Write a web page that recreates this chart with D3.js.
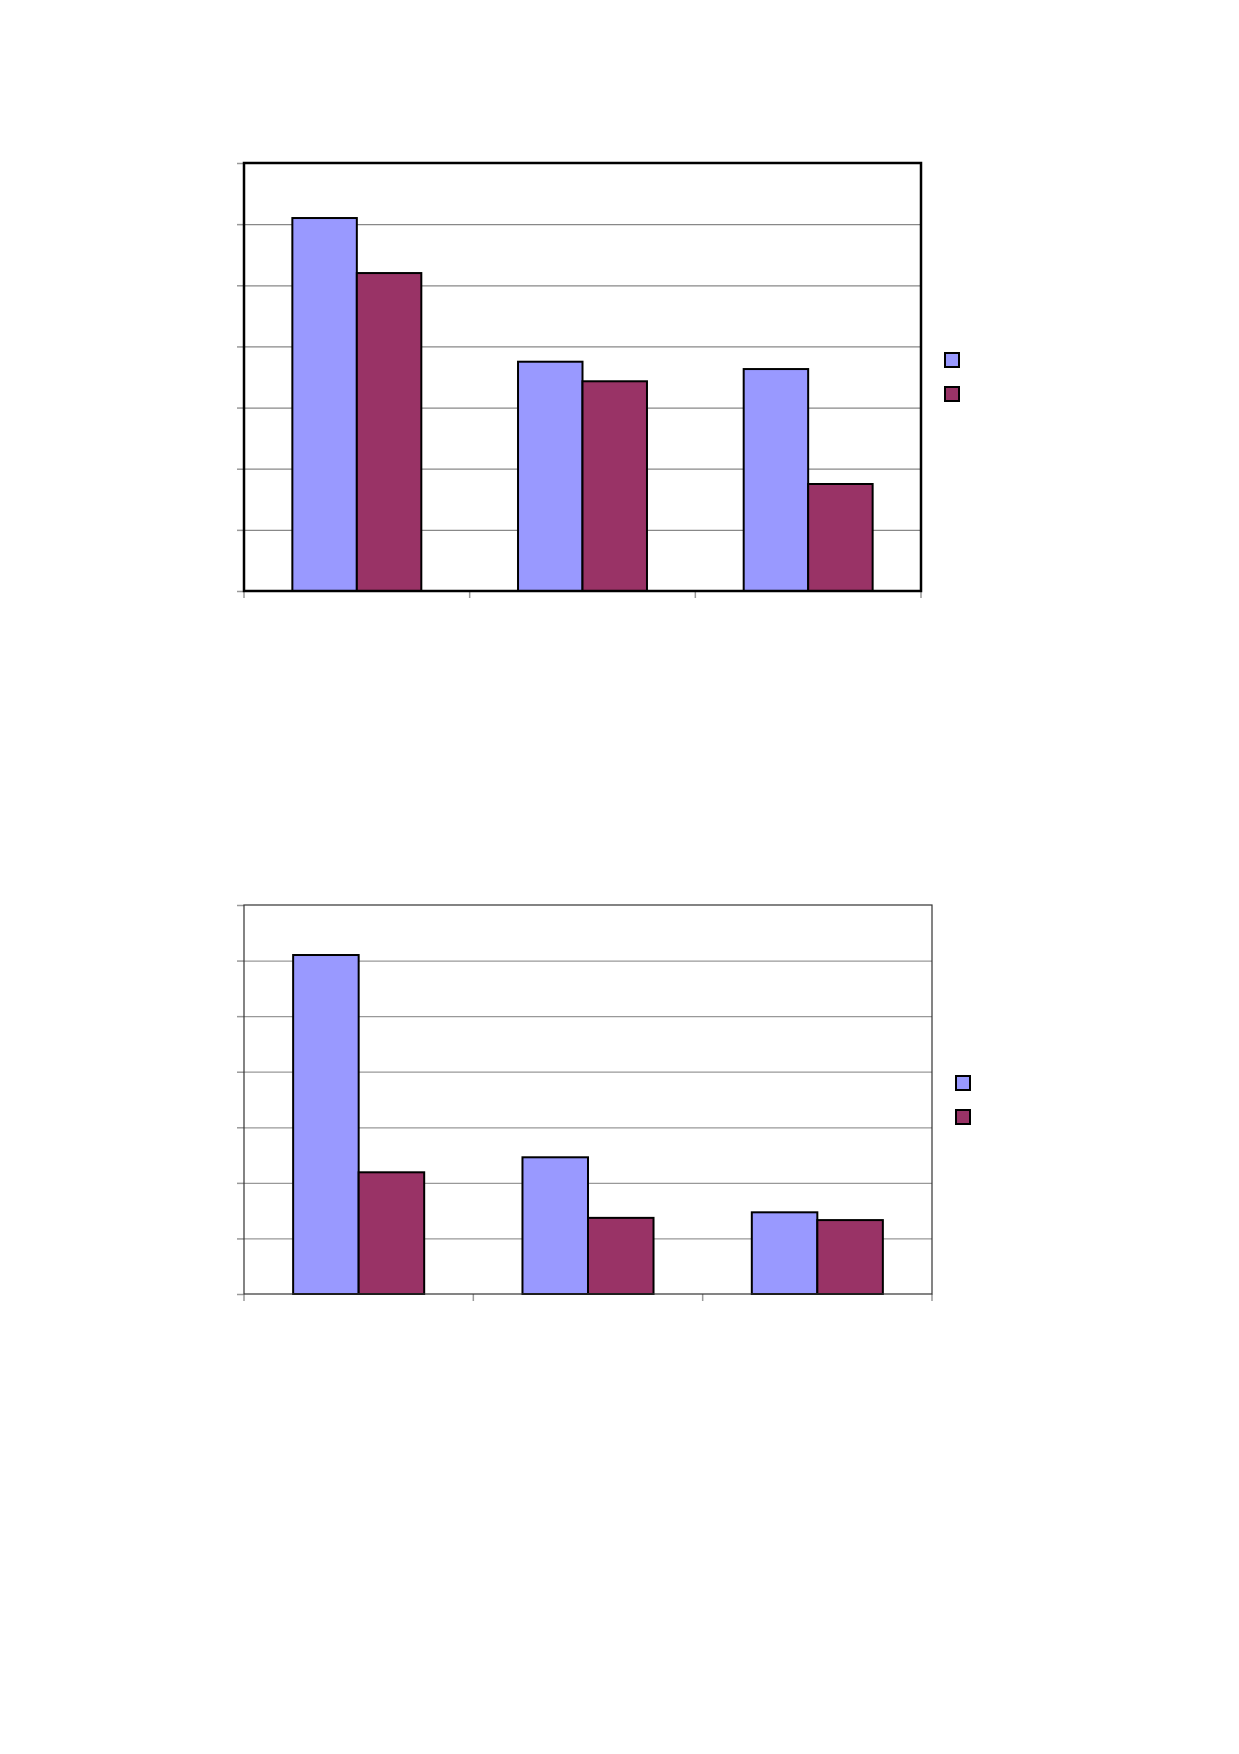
<!DOCTYPE html>
<html>
<head>
<meta charset="utf-8">
<script src="https://cdn.jsdelivr.net/npm/d3@7"></script>
<style>
  body { margin: 0; background: #fff; }
  svg { display: block; }
</style>
</head>
<body>
<div id="page"></div>
<script>
// data (no labels are printed, so units are grid steps)
const categories = ["1", "2", "3"];
const seriesNames = ["Series 1", "Series 2"];
const yTicks = [0, 1, 2, 3, 4, 5, 6, 7];

const topSeries1 = [6.1, 3.75, 3.63];
const topSeries2 = [5.2, 3.43, 1.75];

const bottomSeries1 = [6.1, 2.46, 1.47];
const bottomSeries2 = [2.19, 1.37, 1.33];

const colors = ["#9999FF", "#993366"];

const svg = d3.select("#page").append("svg")
    .attr("width", 1239)
    .attr("height", 1754);

function drawChart(opts) {
    let g = svg.append("g")
        .attr("transform", `translate(${opts.left}, ${opts.top})`);

    let x0 = d3.scaleBand()
        .domain(categories)
        .range([0, opts.width]);

    let x1 = d3.scaleBand()
        .domain(seriesNames)
        .range([0, x0.bandwidth()])
        .paddingOuter(0.75);

    let y = d3.scaleLinear()
        .domain([0, 7])
        .range([opts.height, 0]);

    // gridlines
    g.append("g")
        .call(d3.axisLeft(y).tickValues(yTicks.slice(1, -1)).tickSize(-opts.width).tickFormat(""))
        .call(a => a.select(".domain").remove())
        .selectAll("line")
        .attr("stroke", opts.gridColor)
        .attr("stroke-width", 1.2);

    // outer ticks on the left
    g.append("g")
        .call(d3.axisLeft(y).tickValues(yTicks).tickSize(opts.tick).tickFormat(""))
        .call(a => a.select(".domain").remove())
        .selectAll("line")
        .attr("stroke", "#999")
        .attr("stroke-width", 1.5);

    // ticks below the category axis
    let catTicks = d3.range(categories.length + 1).map(i => i * x0.step());
    g.append("g")
        .selectAll("line")
        .data(catTicks)
        .enter()
        .append("line")
        .attr("x1", d => d).attr("x2", d => d)
        .attr("y1", opts.height).attr("y2", opts.height + opts.tick)
        .attr("stroke", "#999")
        .attr("stroke-width", 1.5);

    let rows = categories.map((c, i) => ({cat: c, values: [opts.s1[i], opts.s2[i]]}));

    let groups = g.selectAll(".grp")
        .data(rows)
        .enter()
        .append("g")
        .attr("class", "grp")
        .attr("transform", d => `translate(${x0(d.cat)}, 0)`);

    groups.selectAll("rect")
        .data(d => d.values.map((v, j) => ({name: seriesNames[j], value: v, j: j})))
        .enter()
        .append("rect")
        .attr("x", d => x1(d.name))
        .attr("y", d => y(d.value))
        .attr("width", x1.bandwidth())
        .attr("height", d => opts.height - y(d.value))
        .attr("fill", d => colors[d.j])
        .attr("stroke", "#000")
        .attr("stroke-width", 2);

    // plot frame
    g.append("rect")
        .attr("width", opts.width)
        .attr("height", opts.height)
        .attr("fill", "none")
        .attr("stroke", opts.frameColor)
        .attr("stroke-width", opts.frameWidth);

    // legend (keys only, no text in the picture)
    let legend = svg.append("g")
        .attr("transform", `translate(${opts.legendX}, ${opts.legendY})`);

    legend.selectAll("rect")
        .data(seriesNames)
        .enter()
        .append("rect")
        .attr("x", 0)
        .attr("y", (d, i) => i * 34)
        .attr("width", 14)
        .attr("height", 14)
        .attr("fill", (d, i) => colors[i])
        .attr("stroke", "#000")
        .attr("stroke-width", 2);
}

drawChart({
    left: 244, top: 163, width: 677, height: 428,
    s1: topSeries1, s2: topSeries2,
    gridColor: "#888", frameColor: "#000", frameWidth: 2.5, tick: 7,
    legendX: 945, legendY: 353
});

drawChart({
    left: 244, top: 905, width: 688, height: 389,
    s1: bottomSeries1, s2: bottomSeries2,
    gridColor: "#999", frameColor: "#333", frameWidth: 1.2, tick: 7,
    legendX: 956, legendY: 1076
});
</script>
</body>
</html>
